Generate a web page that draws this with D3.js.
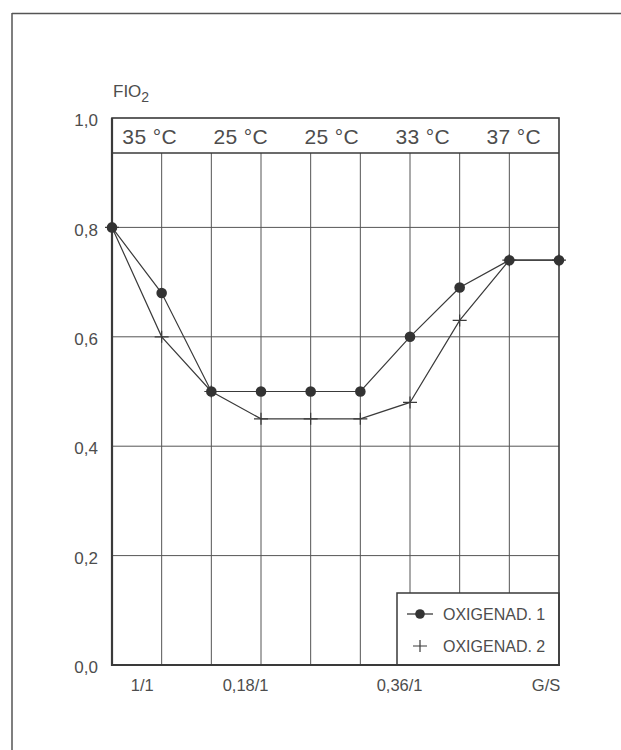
<!DOCTYPE html>
<html>
<head>
<meta charset="utf-8">
<script src="https://cdn.jsdelivr.net/npm/d3@7"></script>
<style>
  html, body { margin: 0; padding: 0; background: #fff; }
  svg { display: block; }
  text { font-family: "Liberation Sans", Arial, sans-serif; fill: #4d4d4d; }
</style>
</head>
<body>
<svg id="chart" width="621" height="750"></svg>
<script>
// ---- data ----
const steps = [0, 1, 2, 3, 4, 5, 6, 7, 8, 9];
const oxigenador1 = [0.80, 0.68, 0.50, 0.50, 0.50, 0.50, 0.60, 0.69, 0.74, 0.74];
const oxigenador2 = [0.80, 0.60, 0.50, 0.45, 0.45, 0.45, 0.48, 0.63, 0.74, 0.74];
const seriesNames = ["OXIGENAD. 1", "OXIGENAD. 2"];
const temperatureLabels = ["35 °C", "25 °C", "25 °C", "33 °C", "37 °C"];
const yTickValues = [0, 0.2, 0.4, 0.6, 0.8, 1.0];
const xTickLabels = ["1/1", "0,18/1", "0,36/1", "G/S"];
const xTickValues = [0.6, 2.68, 5.78, 8.73];
const headerFloor = 0.936;

// ---- layout ----
const svg = d3.select("#chart");
const pL = 112, pR = 559, pT = 118, pB = 665;
const x = d3.scaleLinear().domain([0, 9]).range([pL, pR]);
const y = d3.scaleLinear().domain([0, 1]).range([pB, pT]);
const fmt = d => d3.format(".1f")(d).replace(".", ",");
const lineCol = "#3a3a3a";
const textCol = "#4d4d4d";

// page frame
svg.append("line").attr("x1", 12).attr("x2", 621).attr("y1", 13.5).attr("y2", 13.5)
  .attr("stroke", "#555").attr("stroke-width", 1.5);
svg.append("line").attr("x1", 12).attr("x2", 12).attr("y1", 13).attr("y2", 750)
  .attr("stroke", "#555").attr("stroke-width", 1.5);

// horizontal gridlines
svg.append("g").selectAll("line").data(yTickValues.filter(v => v > 0 && v < 1)).join("line")
  .attr("x1", pL).attr("x2", pR).attr("y1", d => y(d)).attr("y2", d => y(d))
  .attr("stroke", "#555").attr("stroke-width", 1);

// vertical gridlines (below header band)
svg.append("g").selectAll("line").data(steps.slice(1, -1)).join("line")
  .attr("x1", d => x(d)).attr("x2", d => x(d))
  .attr("y1", y(headerFloor)).attr("y2", pB)
  .attr("stroke", "#555").attr("stroke-width", 1);

// header band bottom line
svg.append("line").attr("x1", pL).attr("x2", pR)
  .attr("y1", y(headerFloor)).attr("y2", y(headerFloor))
  .attr("stroke", lineCol).attr("stroke-width", 1.3);

// header temperature labels
const hx = d3.scalePoint().domain(d3.range(temperatureLabels.length)).range([x(0.76), x(8.09)]);
svg.append("g").selectAll("text").data(temperatureLabels).join("text")
  .attr("x", (d, i) => hx(i)).attr("y", y(headerFloor) - 9)
  .attr("text-anchor", "middle").attr("font-size", 21).attr("letter-spacing", 0.4)
  .text(d => d);

// legend box (covers gridlines)
const lg = svg.append("g");
lg.append("rect").attr("x", 397).attr("y", 593).attr("width", pR - 397).attr("height", pB - 593)
  .attr("fill", "#fff").attr("stroke", lineCol).attr("stroke-width", 1.5);
const legendRows = seriesNames.map((n, i) => ({ name: n, i }));
const lrow = lg.selectAll("g.row").data(legendRows).join("g")
  .attr("transform", d => `translate(420, ${614 + d.i * 32})`);
lrow.filter(d => d.i === 0).append("line").attr("x1", -13).attr("x2", 13)
  .attr("stroke", lineCol).attr("stroke-width", 1.3);
lrow.filter(d => d.i === 0).append("circle").attr("r", 4.8).attr("fill", "#333");
lrow.filter(d => d.i === 1).append("path").attr("d", "M-7,0H7M0,-6V6")
  .attr("stroke", lineCol).attr("stroke-width", 1.2);
lrow.append("text").attr("x", 23).attr("y", 0).attr("dy", "0.36em")
  .attr("font-size", 16).text(d => d.name);

// plot frame
svg.append("rect").attr("x", pL).attr("y", pT).attr("width", pR - pL).attr("height", pB - pT)
  .attr("fill", "none").attr("stroke", lineCol).attr("stroke-width", 1.6);
svg.append("line").attr("x1", pL).attr("x2", pL).attr("y1", pT).attr("y2", pB + 1)
  .attr("stroke", lineCol).attr("stroke-width", 2.2);
svg.append("line").attr("x1", pL).attr("x2", pR + 1).attr("y1", pB).attr("y2", pB)
  .attr("stroke", lineCol).attr("stroke-width", 2.2);

// series lines
const line = d3.line().x((d, i) => x(steps[i])).y(d => y(d));
[oxigenador2, oxigenador1].forEach(s => {
  svg.append("path").datum(s).attr("d", line)
    .attr("fill", "none").attr("stroke", lineCol).attr("stroke-width", 1.2);
});

// markers
svg.append("g").selectAll("path").data(oxigenador2).join("path")
  .attr("transform", (d, i) => `translate(${x(steps[i])},${y(d)})`)
  .attr("d", "M-7,0H7M0,-6V6")
  .attr("stroke", lineCol).attr("stroke-width", 1.2);
svg.append("g").selectAll("circle").data(oxigenador1).join("circle")
  .attr("cx", (d, i) => x(steps[i])).attr("cy", d => y(d)).attr("r", 5.3)
  .attr("fill", "#333");

// y axis labels
const yAxis = d3.axisLeft(y).tickValues(yTickValues).tickSize(0).tickPadding(14).tickFormat(fmt);
const ya = svg.append("g").attr("transform", `translate(${pL},0)`).call(yAxis);
ya.select(".domain").remove();
ya.selectAll("text").attr("font-size", 17).attr("font-family", null).attr("fill", textCol).attr("dy", "0.45em");

// x axis labels
const xAxis = d3.axisBottom(x).tickValues(xTickValues).tickSize(0).tickPadding(14)
  .tickFormat((d, i) => xTickLabels[i]);
const xa = svg.append("g").attr("transform", `translate(0,${pB})`).call(xAxis);
xa.select(".domain").remove();
xa.selectAll("text").attr("font-size", 16.5).attr("font-family", null).attr("fill", textCol);

// y title FIO2
const t = svg.append("text").attr("x", 113).attr("y", 97).attr("font-size", 17);
t.append("tspan").text("FIO");
t.append("tspan").attr("font-size", 14).attr("dy", 5).text("2");
</script>
</body>
</html>
